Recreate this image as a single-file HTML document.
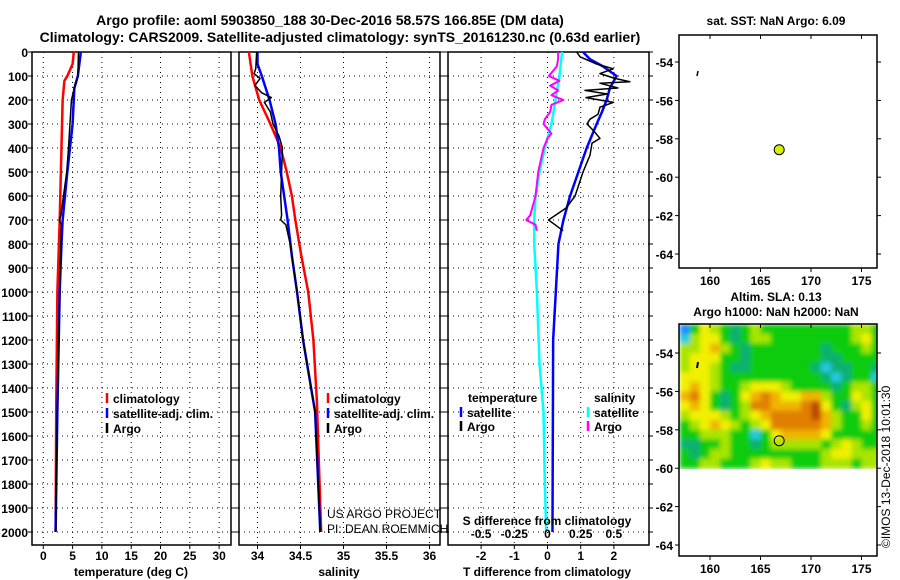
<!DOCTYPE html>
<html><head><meta charset="utf-8">
<style>
html,body{margin:0;padding:0;background:#fff;}
svg{display:block;font-family:"Liberation Sans",sans-serif;}
.b{font-weight:bold;}
</style></head>
<body>
<svg id="s" width="900" height="580" viewBox="0 0 900 580">
<defs>
<filter id="blur" x="-5%" y="-5%" width="110%" height="110%"><feGaussianBlur stdDeviation="2.5" edgeMode="duplicate"/></filter>
<clipPath id="slaClip"><rect x="679" y="324" width="198" height="145"/></clipPath>
</defs>
<text x="330" y="25" text-anchor="middle" font-size="14" class="b">Argo profile: aoml 5903850_188 30-Dec-2016 58.57S 166.85E (DM data)</text>
<text x="340" y="42" text-anchor="middle" font-size="14" class="b">Climatology: CARS2009. Satellite-adjusted climatology: synTS_20161230.nc (0.63d earlier)</text>
<text x="776" y="25" text-anchor="middle" font-size="12" class="b">sat. SST: NaN Argo: 6.09</text>
<text x="776" y="301" text-anchor="middle" font-size="12" class="b">Altim. SLA: 0.13</text>
<text x="776" y="316" text-anchor="middle" font-size="12" class="b">Argo h1000: NaN h2000: NaN</text>
<text transform="translate(890,548) rotate(-90)" font-size="12">©IMOS 13-Dec-2018 10:01:30</text>
<g id="slaLayer" clip-path="url(#slaClip)"><g id="slaCells" filter="url(#blur)"></g></g>
</svg>
<script>
// ---------- data ----------
const depthTicks=[0,100,200,300,400,500,600,700,800,900,1000,1100,1200,1300,1400,1500,1600,1700,1800,1900,2000];
const tempTicks=[0,5,10,15,20,25,30];
const salTicks=[34,34.5,35,35.5,36];
const tdiffTicks=[-2,-1,0,1,2];
const sdiffTicks=[-0.5,-0.25,0,0.25,0.5];
const sdiffLabels=["-0.5","-0.25","0","0.25","0.5"];

const climDepth=[0,50,100,120,200,400,700,1000,1500,2000];
const climTemp=[5.2,5.0,4.1,3.6,3.3,3.1,2.8,2.4,2.2,2.1];
const satDepth=[0,100,150,300,500,700,800,1000,1500,2000];
const satTemp=[6.4,5.9,5.3,5.0,4.1,3.3,3.1,2.8,2.4,2.1];
const argoTDepth=[0,100,150,180,200,280,400,500,680,700,720,800,1000,1500,2000];
const argoTemp=[6.0,5.9,5.3,5.0,4.8,4.6,4.3,4.0,3.0,2.7,3.1,3.0,2.8,2.4,2.1];

const climSDepth=[0,100,200,300,400,500,600,700,850,1000,1200,1450,2000];
const climSal=[33.90,33.94,34.02,34.15,34.27,34.34,34.40,34.44,34.51,34.59,34.65,34.69,34.74];
const satSDepth=[0,50,100,200,300,400,500,600,700,850,1000,1200,1500,2000];
const satSal=[34.00,34.00,34.05,34.14,34.21,34.25,34.27,34.31,34.35,34.40,34.46,34.53,34.67,34.73];
const argoSDepth=[0,70,90,110,140,170,190,210,250,300,350,400,500,600,680,700,720,800,1000,1200,1500,2000];
const argoSal=[33.99,33.98,33.96,34.03,33.97,34.05,34.16,34.08,34.15,34.18,34.25,34.29,34.28,34.27,34.28,34.27,34.33,34.38,34.46,34.53,34.67,34.73];

const dTsatDepth=[0,30,60,100,150,200,250,300,400,500,600,700,800,1200,2000];
const dTsat=[1.07,1.28,1.67,2.08,1.88,1.78,1.64,1.48,1.18,0.93,0.68,0.48,0.33,0.17,0.15];
const dTargoDepth=[0,20,50,70,90,110,124,130,150,160,175,190,210,230,260,280,300,330,360,380,430,500,600,650,700,720,745];
const dTargo=[0.88,0.98,1.48,1.98,1.58,2.03,2.48,1.58,2.12,1.13,1.80,1.16,1.98,1.58,1.52,1.28,1.19,1.40,1.58,1.34,1.28,1.07,0.83,0.56,0.03,0.23,0.47];
const dSsatDepth=[0,100,200,300,400,500,600,700,800,1000,1300,1500,1800,2000];
const dSsat=[0.11,0.09,0.06,0.03,-0.02,-0.06,-0.09,-0.10,-0.10,-0.08,-0.06,-0.03,-0.02,-0.01];
const dSargoDepth=[0,30,60,100,120,140,160,180,200,220,250,280,300,340,360,400,500,600,680,700,720,745];
const dSargo=[0.08,0.08,0.07,0.01,0.09,0.02,0.08,0.03,0.12,0.03,0.02,-0.02,-0.03,0.03,0,-0.03,-0.07,-0.09,-0.13,-0.16,-0.09,-0.08];

const lonTicks=[160,165,170,175];
const latTicks=[-54,-56,-58,-60,-62,-64];
const floatLon=166.85, floatLat=-58.57;
const slaLon0=157, slaLat0=-52.5, slaDLon=1, slaDLat=0.5;
const slaGrid=[
[0,3,5,4,3,2,3,4,3,3,3,3,3,3,3,3,3,4,4,3],
[1,4,5,5,3,2,3,4,4,3,3,3,3,3,3,3,3,4,5,3],
[4,4,5,6,4,3,2,3,3,3,3,3,3,3,2,3,3,3,4,3],
[4,5,5,5,3,3,2,3,3,3,3,3,3,3,2,2,3,3,3,3],
[4,5,5,4,3,2,2,3,3,3,3,3,3,2,1,2,2,3,3,2],
[5,5,5,4,3,3,3,3,3,3,3,3,3,3,2,1,2,3,3,1],
[5,6,5,4,3,3,4,5,5,5,4,3,3,3,3,2,3,4,4,3],
[6,7,5,3,2,3,5,6,7,6,5,5,6,6,4,3,3,5,4,3],
[5,6,5,3,2,3,4,7,7,6,6,6,7,8,5,3,2,4,5,3],
[4,5,5,5,4,3,4,5,6,7,7,7,7,8,6,4,3,3,5,3],
[3,4,5,6,5,4,3,4,5,7,7,7,7,7,6,4,3,3,4,3],
[3,3,4,4,4,3,3,1,3,5,6,6,6,6,5,3,3,3,3,3],
[2,2,3,3,4,3,3,2,3,4,4,4,4,4,3,4,5,4,3,3],
[3,2,3,4,4,3,3,3,3,3,3,3,3,3,4,5,5,4,4,4],
[3,3,4,4,3,3,3,4,5,4,4,3,3,3,4,4,4,3,4,4]];
const palette=["#1e8cff","#20c8e0","#10b070","#10cc10","#a8e400","#f0f000","#f0b400","#e08000","#c04800"];

// ---------- helpers ----------
const NS="http://www.w3.org/2000/svg";
const svg=document.getElementById('s');
function mk(tag,at,parent){const e=document.createElementNS(NS,tag);for(const k in at)e.setAttribute(k,at[k]);(parent||svg).appendChild(e);return e;}
function txt(x,y,s,sz,anchor,bold){const t=mk('text',{x:x,y:y,'font-size':sz,'text-anchor':anchor||'middle'});if(bold)t.setAttribute('font-weight','bold');t.textContent=s;return t;}

const T=52,B=545;
const yD=d=>T+d*0.24;
const xT=v=>43.3+v*5.86;
const xS=v=>257.5+(v-34)*86;
const xdT=v=>547.5+v*33.2;
const xdS=v=>547.5+v*132.8;

function panel(x0,x1,name,xticks,xf,labels,showDepth){
  const g=mk('g',{});
  
  
  depthTicks.forEach(d=>{if(d>0){mk('line',{x1:x0,x2:x1,y1:yD(d),y2:yD(d),stroke:'#000','stroke-dasharray':'1,4','stroke-width':1},g);}
    mk('line',{x1:x0-4,x2:x0,y1:yD(d),y2:yD(d),stroke:'#000'},g);mk('line',{x1:x1,x2:x1+4,y1:yD(d),y2:yD(d),stroke:'#000'},g);
    if(showDepth){const t=txt(x0-4,yD(d)+5,String(d),12,'end',true);}});
  xticks.forEach((v,i)=>{const x=xf(v);mk('line',{x1:x,x2:x,y1:T,y2:B,stroke:'#000','stroke-dasharray':'1,4'},g);
    mk('line',{x1:x,x2:x,y1:B,y2:B+4,stroke:'#000'},g);
    if(labels){const t=txt(x,B+15,labels[i],12,'middle',true);}});
  mk('rect',{x:x0,y:T,width:x1-x0,height:B-T,fill:'none',stroke:'#000','stroke-width':1.5},g);
  return g;
}
function line(xs,ds,xf,color,w,name){
  const p=mk('polyline',{points:xs.map((v,i)=>xf(v)+','+yD(ds[i])).join(' '),fill:'none',stroke:color,'stroke-width':w,'stroke-linejoin':'round'});
  
  
}
function legend(x,y,color,label,name){
  mk('line',{x1:x,x2:x,y1:y-10,y2:y,stroke:color,'stroke-width':2.5});
  const t=txt(x+6,y,label,12,'start',true);
  
  
}

// panel 1: temperature
panel(32,231,'temperature-panel',tempTicks,xT,tempTicks.map(String),true);
line(climTemp,climDepth,xT,'#ff0000',2.5,'temp-climatology-line');
line(satTemp,satDepth,xT,'#0000ff',2.5,'temp-satellite-line');
line(argoTemp,argoTDepth,xT,'#000000',1.5,'temp-argo-line');
txt(131,576,'temperature (deg C)',12,'middle',true);
legend(107,403,'#ff0000','climatology','legend-climatology');
legend(107,418,'#0000ff','satellite-adj. clim.','legend-satellite');
legend(107,433,'#000000','Argo','legend-argo');

// panel 2: salinity
panel(239,440,'salinity-panel',salTicks,xS,["34","34.5","35","35.5","36"],false);
line(climSal,climSDepth,xS,'#ff0000',2.5,'sal-climatology-line');
line(satSal,satSDepth,xS,'#0000ff',2.5,'sal-satellite-line');
line(argoSal,argoSDepth,xS,'#000000',1.5,'sal-argo-line');
txt(339,576,'salinity',12,'middle',true);
legend(328,403,'#ff0000','climatology','legend-climatology-2');
legend(328,418,'#0000ff','satellite-adj. clim.','legend-satellite-2');
legend(328,433,'#000000','Argo','legend-argo-2');
txt(327,518,'US ARGO PROJECT',12,'start',false);
txt(327,533,'PI: DEAN ROEMMICH',12,'start',false);

// panel 3: differences
panel(448,649,'difference-panel',tdiffTicks,xdT,["-2","-1","0","1","2"],false);
line(dSsat,dSsatDepth,xdS,'#00ffff',2.5,'sdiff-satellite-line');
line(dSargo,dSargoDepth,xdS,'#ff00ff',2,'sdiff-argo-line');
line(dTsat,dTsatDepth,xdT,'#0000ff',2.5,'tdiff-satellite-line');
line(dTargo,dTargoDepth,xdT,'#000000',1.5,'tdiff-argo-line');
sdiffTicks.forEach((v,i)=>{const t=txt(xdS(v),B-7,sdiffLabels[i],12,'middle',true);});
txt(547,525,'S difference from climatology',12,'middle',true);
txt(547,576,'T difference from climatology',12,'middle',true);
txt(468,402,'temperature',12,'start',true);
legend(461,417,'#0000ff','satellite','legend-t-satellite');
legend(461,431,'#000000','Argo','legend-t-argo');
txt(594,402,'salinity',12,'start',true);
legend(588,417,'#00ffff','satellite','legend-s-satellite');
legend(588,431,'#ff00ff','Argo','legend-s-argo');

// maps
const xL=v=>710+(v-160)*10.1;
function mapAxes(top,bot,yf,name){
  const g=mk('g',{});
  
  
  mk('rect',{x:679,y:top,width:198,height:bot-top,fill:'none',stroke:'#000','stroke-width':1.5},g);
  latTicks.forEach(v=>{const y=yf(v);mk('line',{x1:675,x2:679,y1:y,y2:y,stroke:'#000'},g);mk('line',{x1:877,x2:881,y1:y,y2:y,stroke:'#000'},g);
    const t=txt(673,y+5,String(v),12,'end',true);});
  lonTicks.forEach(v=>{const x=xL(v);mk('line',{x1:x,x2:x,y1:top,y2:top+4,stroke:'#000'},g);mk('line',{x1:x,x2:x,y1:bot,y2:bot+4,stroke:'#000'},g);
    const t=txt(x,bot+17,String(v),12,'middle',true);});
}
const yM1=v=>62+(-54-v)*19.2;
const yM2=v=>353+(-54-v)*19.2;
// SLA heatmap
const cellsG=document.getElementById('slaCells');
slaGrid.forEach((row,r)=>row.forEach((c,k)=>{
  const lo=slaLon0+k*slaDLon, la=slaLat0-r*slaDLat;
  const x=xL(lo), y=yM2(la);
  const cell=mk('rect',{x:x,y:y,width:xL(lo+slaDLon)-x+0.5,height:yM2(la-slaDLat)-y+0.5,fill:palette[c]},cellsG);
  
  
}));
mapAxes(35,268,yM1,'sst-map');
mapAxes(324,556,yM2,'sla-map');
mk('line',{x1:698,x2:697,y1:71,y2:76,stroke:'#000','stroke-width':1.5});
mk('line',{x1:698,x2:697,y1:362,y2:368,stroke:'#000','stroke-width':2});
const c1=mk('circle',{cx:xL(floatLon),cy:yM1(floatLat),r:5,fill:'#d8f000',stroke:'#000'});


const c2=mk('circle',{cx:xL(floatLon),cy:yM2(floatLat),r:5,fill:'none',stroke:'#000'});


</script>
</body></html>
